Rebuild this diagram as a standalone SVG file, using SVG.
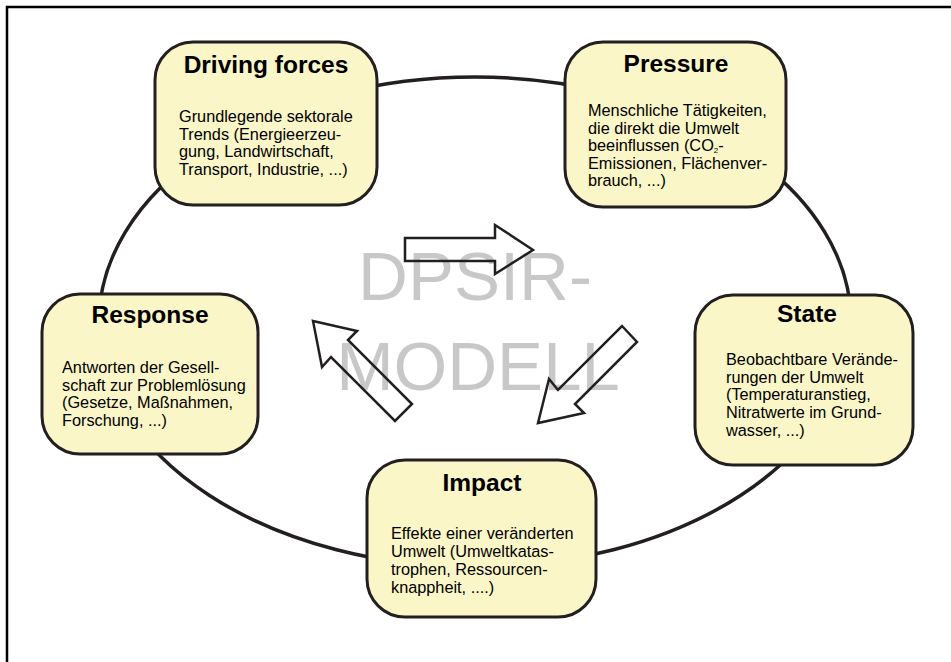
<svg xmlns="http://www.w3.org/2000/svg" width="951" height="662" viewBox="0 0 951 662">
  <style>
    .frame { fill: none; stroke: #000; stroke-width: 2.5; }
    .cycle { fill: none; stroke: #231f20; stroke-width: 3.5; }
    .box { fill: #faf6c8; stroke: #231f20; stroke-width: 3; }
    .title { font-family: "Liberation Sans", Arial, sans-serif; font-size: 24.5px; font-weight: bold; fill: #000; text-anchor: middle; }
    .body { font-family: "Liberation Sans", Arial, sans-serif; font-size: 16.3px; fill: #000; }
    .sub { font-size: 8px; }
    .watermark { font-family: "Liberation Sans", Arial, sans-serif; font-size: 69px; fill: #c8c8c8; text-anchor: middle; }
    .arrow { fill: none; stroke: #231f20; stroke-width: 2.5; stroke-linejoin: miter; }
  </style>

  <!-- page frame -->
  <path class="frame" d="M7,662 V7 H951"/>

  <!-- cycle connecting the five stages -->
  <g id="connectors">
    <ellipse class="cycle" cx="475" cy="322" rx="376" ry="245"/>
  </g>

  <!-- centre label -->
  <g id="label">
    <text class="watermark" x="475" y="300">DPSIR-</text>
    <text class="watermark" x="478" y="390">MODELL</text>
  </g>

  <!-- cycle direction arrows -->
  <g id="arrows">
    <polygon class="arrow" points="405,238 495,238 495,225 533,250 495,274 495,261 405,261"/>
    <polygon class="arrow" points="622,326 637,342 575,404 584,413 538,423 549,379 558,390"/>
    <polygon class="arrow" points="313,321 357,331 348,340 412,404 395,421 331,357 322,367"/>
  </g>

  <g id="driving-forces">
    <rect class="box" x="155" y="42" width="222" height="163" rx="38" ry="38"/>
    <text class="title" x="266" y="73">Driving forces</text>
    <text class="body" x="179" y="122">Grundlegende sektorale</text>
    <text class="body" x="179" y="139.5">Trends (Energieerzeu-</text>
    <text class="body" x="179" y="157">gung, Landwirtschaft,</text>
    <text class="body" x="179" y="174.5">Transport, Industrie, ...)</text>
  </g>

  <g id="pressure">
    <rect class="box" x="565" y="42" width="221" height="165" rx="38" ry="38"/>
    <text class="title" x="676" y="72">Pressure</text>
    <text class="body" x="588" y="116">Menschliche Tätigkeiten,</text>
    <text class="body" x="588" y="133.5">die direkt die Umwelt</text>
    <text class="body" x="588" y="151">beeinflussen (CO<tspan class="sub" dy="2">2</tspan><tspan dy="-2">-</tspan></text>
    <text class="body" x="588" y="168.5">Emissionen, Flächenver-</text>
    <text class="body" x="588" y="186">brauch, ...)</text>
  </g>

  <g id="response">
    <rect class="box" x="42" y="294" width="216" height="160" rx="38" ry="38"/>
    <text class="title" x="150" y="323">Response</text>
    <text class="body" x="62" y="373">Antworten der Gesell-</text>
    <text class="body" x="62" y="390.5">schaft zur Problemlösung</text>
    <text class="body" x="62" y="408">(Gesetze, Maßnahmen,</text>
    <text class="body" x="62" y="425.5">Forschung, ...)</text>
  </g>

  <g id="state">
    <rect class="box" x="695" y="295" width="218" height="170" rx="38" ry="38"/>
    <text class="title" x="807" y="322">State</text>
    <text class="body" x="726" y="365">Beobachtbare Verände-</text>
    <text class="body" x="726" y="382.5">rungen der Umwelt</text>
    <text class="body" x="726" y="400">(Temperaturanstieg,</text>
    <text class="body" x="726" y="417.5">Nitratwerte im Grund-</text>
    <text class="body" x="726" y="436">wasser, ...)</text>
  </g>

  <g id="impact">
    <rect class="box" x="367" y="460" width="229" height="157" rx="38" ry="38"/>
    <text class="title" x="482" y="491">Impact</text>
    <text class="body" x="391" y="539">Effekte einer veränderten</text>
    <text class="body" x="391" y="557">Umwelt (Umweltkatas-</text>
    <text class="body" x="391" y="575">trophen, Ressourcen-</text>
    <text class="body" x="391" y="593">knappheit, ....)</text>
  </g>
</svg>
